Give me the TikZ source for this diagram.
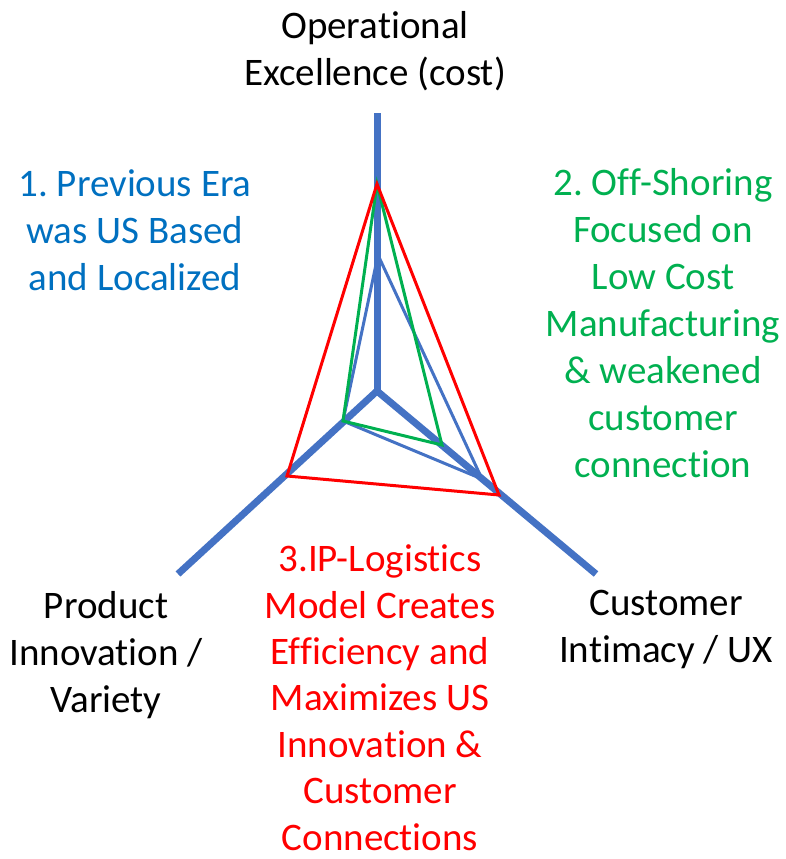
\documentclass[tikz,border=0pt]{standalone}
\usepackage{fontspec}
\setmainfont{Carlito}[Ligatures=NoCommon]
\frenchspacing
\definecolor{axisblue}{HTML}{4472C4}
\definecolor{txtblue}{HTML}{0070C0}
\definecolor{txtgreen}{HTML}{00B050}
\definecolor{txtred}{HTML}{FF0000}
\begin{document}
\begin{tikzpicture}[x=1pt,y=-1pt,
  axisline/.style={draw=axisblue,line width=7pt},
  polyblue/.style={draw=axisblue,line width=3pt,line join=miter},
  polygreen/.style={draw=txtgreen,line width=3pt,line join=miter},
  polyred/.style={draw=txtred,line width=3pt,line join=miter},
  lbl/.style={align=center,inner sep=0pt,anchor=base,font=\fontsize{39}{47}\selectfont\frenchspacing}]
\useasboundingbox (0,0) rectangle (786,859);
% axes
\coordinate (O) at (377,391);
\coordinate (T) at (377,113);
\coordinate (L) at (178,574);
\coordinate (R) at (596,574);
% polygon vertices
\coordinate (rt) at (377,184);
\coordinate (rl) at (287,476);
\coordinate (rr) at (499,495);
\coordinate (gt) at (377,184);
\coordinate (gl) at (343,421);
\coordinate (gr) at (442,445);
\coordinate (bt) at (378,255);
\coordinate (bl) at (343,421);
\coordinate (br) at (482,479);
\draw[axisline] (T) -- (O);
\draw[axisline,line join=miter] (L) -- (O) -- (R);
\draw[polyblue] (bt) -- (bl) -- (br) -- cycle;
\draw[polygreen] (gt) -- (gl) -- (gr) -- cycle;
\draw[polyred] (rt) -- (rl) -- (rr) -- cycle;
% labels (anchored at the baseline of the last line)
\node[lbl] (top) at (375,85) {Operational\\Excellence (cost)};
\node[lbl,text=txtblue] (era1) at (135,290) {1. Previous Era\\was US Based\\and Localized};
\node[lbl,text=txtgreen] (era2) at (663,477) {2. Off-Shoring\\Focused on\\Low Cost\\Manufacturing\\\& weakened\\customer\\connection};
\node[lbl] (prod) at (106,712) {Product\\Innovation /\\Variety};
\node[lbl] (cust) at (666,662) {Customer\\Intimacy / UX};
\node[lbl,text=txtred,font=\fontsize{39}{46.4}\selectfont\frenchspacing] (era3) at (380,850) {3.IP-Logistics\\Model Creates\\Efficiency and\\Maximizes US\\Innovation \&\\Customer\\Connections};
\end{tikzpicture}
\end{document}
